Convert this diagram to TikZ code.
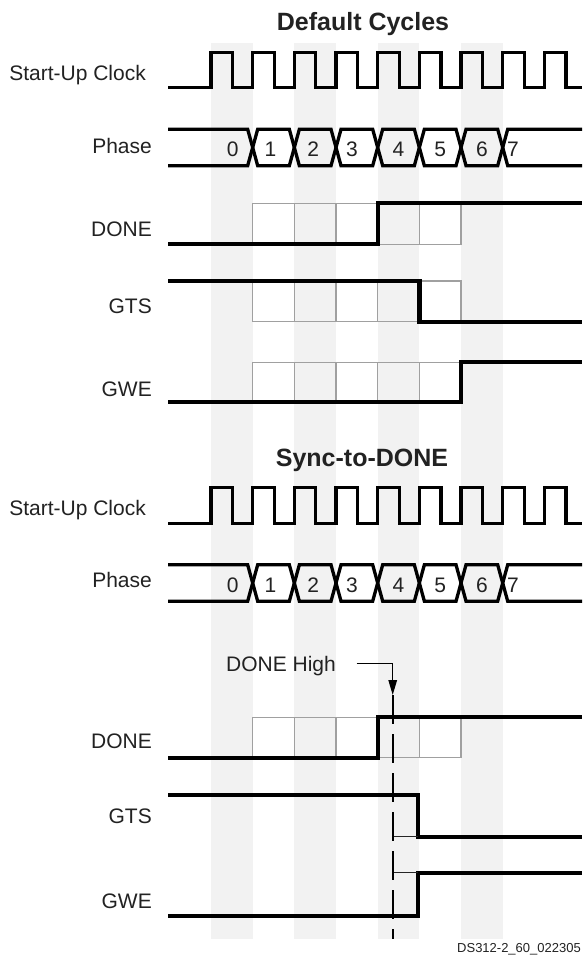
\documentclass[tikz,border=0pt]{standalone}
\usepackage{fontspec}
\setmainfont{Liberation Sans}
\usetikzlibrary{arrows.meta}
\definecolor{stripecol}{HTML}{F2F2F2}
\definecolor{gridgray}{HTML}{A0A0A0}
\definecolor{txt}{HTML}{222222}
\newcommand\clocksig[2]{% #1 low y, #2 high y
  \draw[clk] (168,#1) \foreach \k in {0,...,8} { -- ({\X+\k*\W},#1) -- ({\X+\k*\W},#2) -- ({\X+\k*\W+21.5},#2) -- ({\X+\k*\W+21.5},#1) } -- (582,#1);}
\newcommand\phasebus[2]{% #1 top y, #2 bottom y
  \draw[bus] (168,#1) \foreach \k/\p/\q in {1/#1/#2,2/#2/#1,3/#1/#2,4/#2/#1,5/#1/#2,6/#2/#1,7/#1/#2} { -- ({\X+\k*\W-\H},\p) -- ({\X+\k*\W+\H},\q) } -- (582,#2);
  \draw[bus] (168,#2) \foreach \k/\p/\q in {1/#2/#1,2/#1/#2,3/#2/#1,4/#1/#2,5/#2/#1,6/#1/#2,7/#2/#1} { -- ({\X+\k*\W-\H},\p) -- ({\X+\k*\W+\H},\q) } -- (582,#1);}
\newcommand\phasenums[2]{% #1 baseline, #2 prefix
  \foreach \k/\dx in {0/1,1/-3,2/-2,3/-5,4/0,5/0,6/0} {\node[num] (#2\k) at ({\X+(\k+0.5)*\W+\dx},#1) {\k};}
  \node[num] (#27) at (513,#1) {7};}
\newcommand\cellgrid[2]{% #1 top, #2 bottom
  \draw[gridline] ({\X+\W},#1) rectangle ({\X+6*\W},#2);
  \foreach \k in {2,...,5} \draw[gridline] ({\X+\k*\W},#1) -- ({\X+\k*\W},#2);}
\begin{document}
\begin{tikzpicture}[x=1pt,y=-1pt,
  clk/.style={line width=3.3pt,line join=miter},
  bus/.style={line width=3.3pt,line join=miter},
  sig/.style={line width=4.3pt,line join=miter},
  gridline/.style={line width=1.5pt,draw=gridgray},
  thinline/.style={line width=1.4pt,draw=black},
  lbl/.style={font=\fontsize{21}{21}\selectfont,text=txt,anchor=base east,inner sep=0pt},
  num/.style={font=\fontsize{21}{21}\selectfont,text=txt,anchor=base,inner sep=0pt},
  ttl/.style={font=\bfseries\fontsize{25}{25}\selectfont,text=txt,anchor=base,inner sep=0pt},
  foot/.style={font=\fontsize{13}{13}\selectfont,text=txt,anchor=base east,inner sep=0pt}
]
\def\W{41.67}
\def\X{211}
\def\H{5}
\useasboundingbox (0,0) rectangle (582,960);
\fill[white] (0,0) rectangle (582,960);
% stripes
\foreach \k in {0,2,4,6} \fill[stripecol] ({\X+\k*\W},43) rectangle ({\X+(\k+1)*\W},939);

% ---------- Default Cycles ----------
\node[ttl] (title1) at (363,31) {Default Cycles};
\node[lbl] (clk1) at (146,80.7) {Start-Up Clock};
\node[lbl] (ph1) at (152,153.3) {Phase};
\node[lbl] (done1) at (152,236.7) {DONE};
\node[lbl] (gts1) at (152,313.3) {GTS};
\node[lbl] (gwe1) at (152,396.7) {GWE};
\clocksig{87.7}{52.3}
\phasebus{129.3}{165.7}
\phasenums{157}{a}
\cellgrid{203.3}{244.3}
\draw[sig] (168,244.3) -- ({\X+4*\W},244.3) -- ({\X+4*\W},203.3) -- (582,203.3);
\cellgrid{281}{321.7}
\draw[sig] (168,281) -- ({\X+5*\W},281) -- ({\X+5*\W},321.7) -- (582,321.7);
\cellgrid{362.3}{402.3}
\draw[sig] (168,402.3) -- ({\X+6*\W},402.3) -- ({\X+6*\W},362.3) -- (582,362.3);

% ---------- Sync-to-DONE ----------
\node[ttl] (title2) at (362,466) {Sync-to-DONE};
\node[lbl] (clk2) at (146,515) {Start-Up Clock};
\node[lbl] (ph2) at (152,587.5) {Phase};
\node[lbl] (done2) at (152,748.3) {DONE};
\node[lbl] (gts2) at (152,823.3) {GTS};
\node[lbl] (gwe2) at (152,908.3) {GWE};
\clocksig{523.5}{487.8}
\phasebus{564.8}{601.2}
\phasenums{592.5}{b}
\cellgrid{717.3}{757.7}
\draw[sig] (168,757.7) -- ({\X+4*\W},757.7) -- ({\X+4*\W},717.3) -- (582,717.3);
\draw[sig] (168,795) -- (418,795) -- (418,836.7) -- (582,836.7);
\draw[sig] (168,916) -- (418,916) -- (418,872.7) -- (582,872.7);
\coordinate (tickA) at (392.7,836.7);
\coordinate (tickB) at (392.7,872.7);
\draw[line width=1.3pt,draw=black!85] (tickA) -- (418,836.7);
\draw[line width=1.3pt,draw=black!85] (tickB) -- (418,872.7);

\node[lbl] (dh) at (336,671.7) {DONE High};
\coordinate (lstart) at (356.7,663.3);
\coordinate (ltip) at (392.7,695);
\coordinate (dend) at (392.7,939);
\draw[thinline,-{Triangle[length=15pt,width=8.5pt]}] (lstart) -| (ltip);
\draw[line width=1.8pt,dash pattern=on 29pt off 10pt] (ltip) -- (dend);

\node[foot] (fig) at (581,952) {DS312-2\_60\_022305};
\end{tikzpicture}
\end{document}
